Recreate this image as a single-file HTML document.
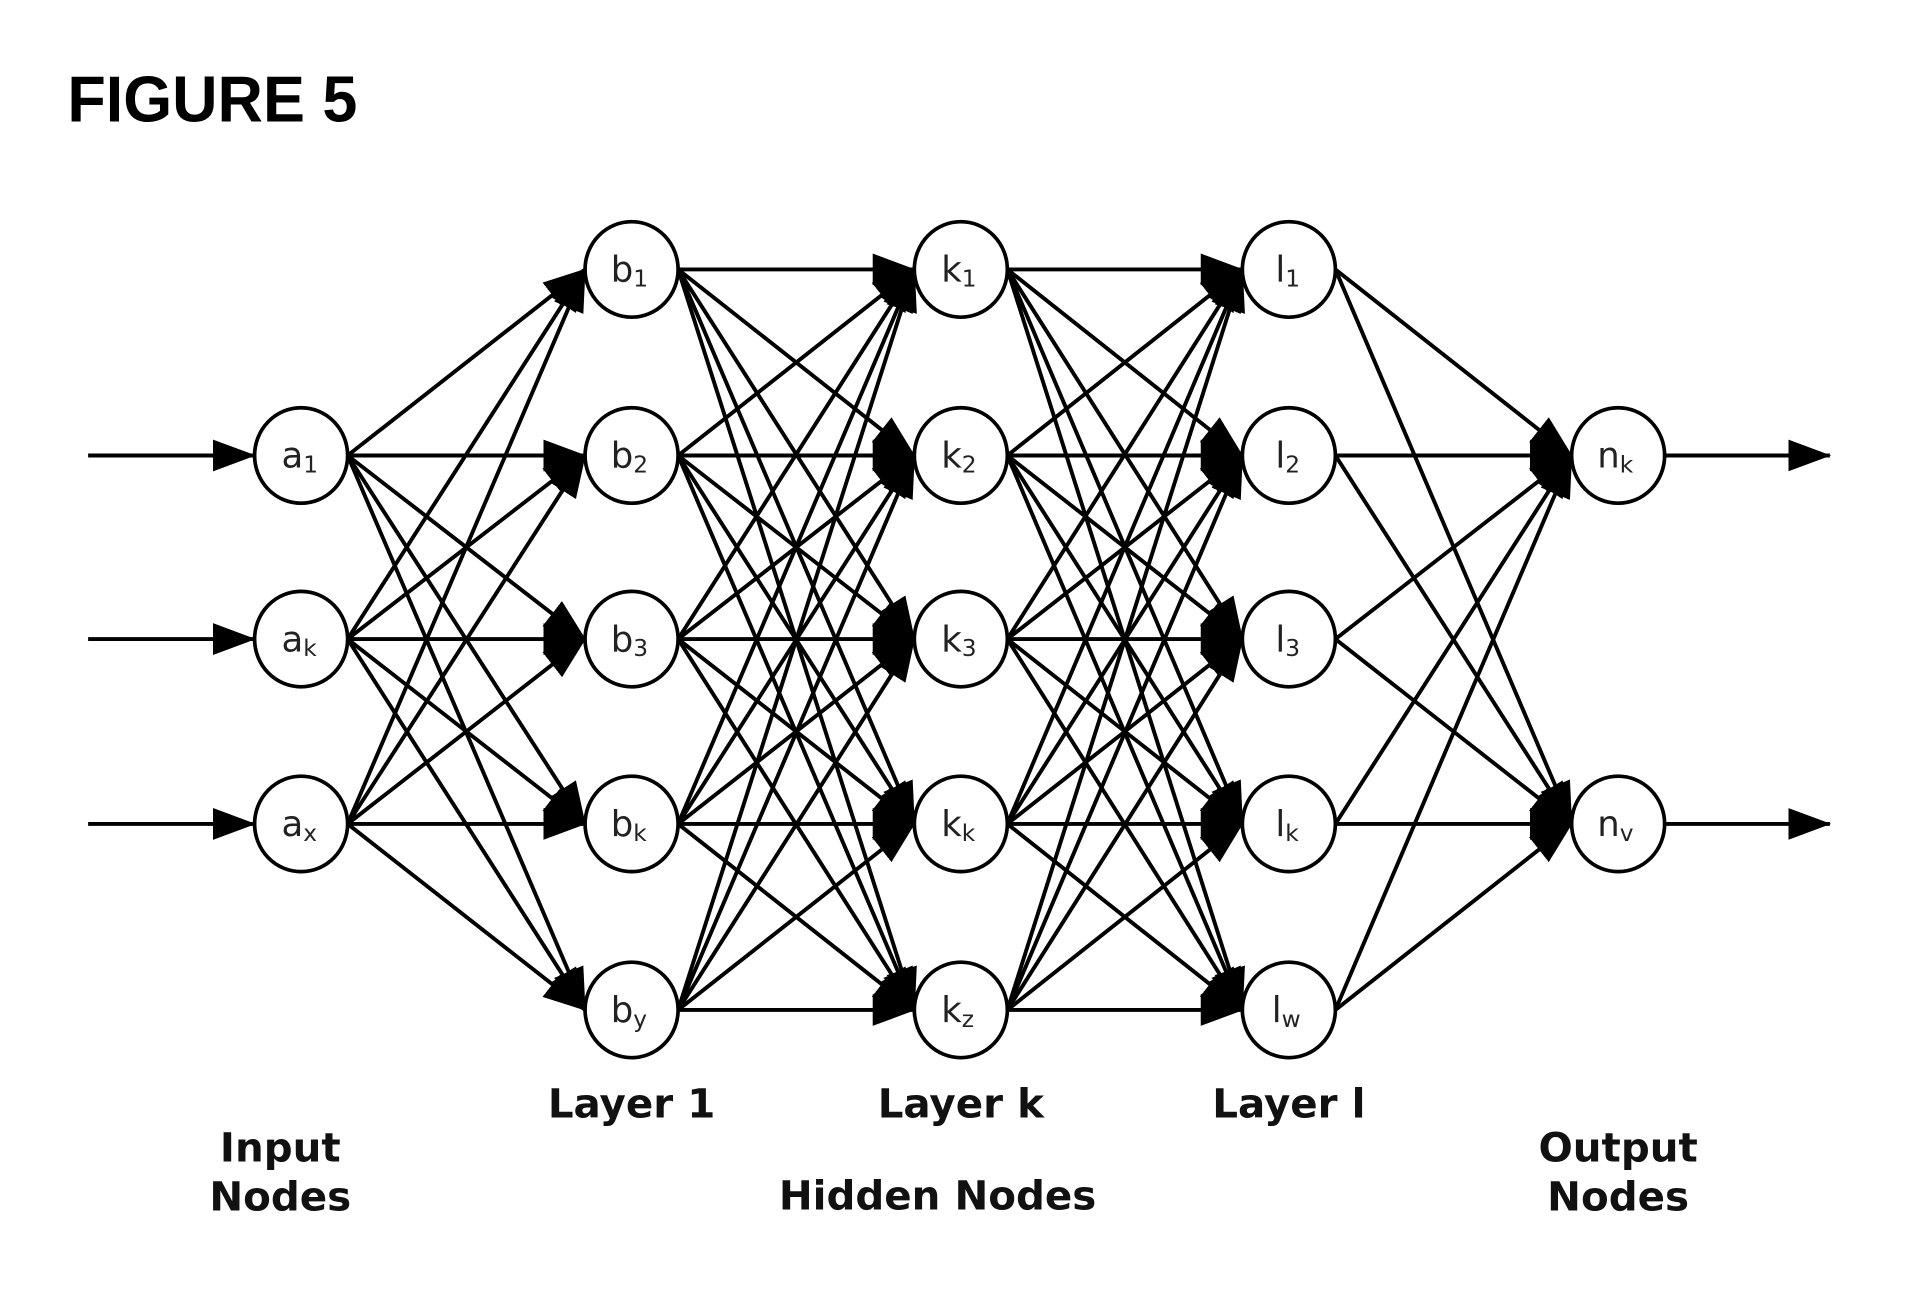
<!DOCTYPE html>
<html><head><meta charset="utf-8"><style>
html,body{margin:0;padding:0;background:#fff;width:1918px;height:1310px;overflow:hidden}
svg{display:block}
.n{font-family:"DejaVu Sans","Liberation Sans",sans-serif;font-size:29px;fill:#222}
.s{font-size:19px}
.lb{font-family:"DejaVu Sans","Liberation Sans",sans-serif;font-weight:bold;font-size:33px;fill:#111}
</style></head><body>
<svg id="g" width="1918" height="1310" viewBox="0 0 1567 1070" xmlns="http://www.w3.org/2000/svg">
<defs><marker id="ah" markerUnits="userSpaceOnUse" markerWidth="36" markerHeight="28" refX="34" refY="13" orient="auto"><path d="M0,0 L35,13 L0,26 z" fill="#000"/></marker></defs>
<text x="55" y="99" font-family="Liberation Sans,sans-serif" font-weight="bold" font-size="53" fill="#000" textLength="237" lengthAdjust="spacingAndGlyphs">FIGURE 5</text>
<g id="lines" stroke="#000" stroke-width="3.2" fill="none"></g>
<g id="nodes" fill="#fff" stroke="#000" stroke-width="3"></g>
<g>
<text class="n" x="230" y="382">a<tspan class="s" dy="4">1</tspan></text>
<text class="n" x="230" y="532">a<tspan class="s" dy="4">k</tspan></text>
<text class="n" x="230" y="683">a<tspan class="s" dy="4">x</tspan></text>
<text class="n" x="499" y="230">b<tspan class="s" dy="4">1</tspan></text>
<text class="n" x="499" y="382">b<tspan class="s" dy="4">2</tspan></text>
<text class="n" x="499" y="532">b<tspan class="s" dy="4">3</tspan></text>
<text class="n" x="499" y="683">b<tspan class="s" dy="4">k</tspan></text>
<text class="n" x="499" y="835">b<tspan class="s" dy="4">y</tspan></text>
<text class="n" x="769" y="230">k<tspan class="s" dy="4">1</tspan></text>
<text class="n" x="769" y="382">k<tspan class="s" dy="4">2</tspan></text>
<text class="n" x="769" y="532">k<tspan class="s" dy="4">3</tspan></text>
<text class="n" x="769" y="683">k<tspan class="s" dy="4">k</tspan></text>
<text class="n" x="769" y="835">k<tspan class="s" dy="4">z</tspan></text>
<text class="n" x="1042" y="230">l<tspan class="s" dy="4">1</tspan></text>
<text class="n" x="1042" y="382">l<tspan class="s" dy="4">2</tspan></text>
<text class="n" x="1042" y="532">l<tspan class="s" dy="4">3</tspan></text>
<text class="n" x="1042" y="683">l<tspan class="s" dy="4">k</tspan></text>
<text class="n" x="1039" y="835">l<tspan class="s" dy="4">w</tspan></text>
<text class="n" x="1305" y="382">n<tspan class="s" dy="4">k</tspan></text>
<text class="n" x="1305" y="683">n<tspan class="s" dy="4">v</tspan></text>
</g>
<text class="lb" x="516" y="913" text-anchor="middle">Layer 1</text>
<text class="lb" x="785" y="913" text-anchor="middle">Layer k</text>
<text class="lb" x="1053" y="913" text-anchor="middle">Layer l</text>
<text class="lb" x="229" y="949" text-anchor="middle">Input</text>
<text class="lb" x="229" y="989" text-anchor="middle">Nodes</text>
<text class="lb" x="766" y="988" text-anchor="middle">Hidden Nodes</text>
<text class="lb" x="1322" y="949" text-anchor="middle">Output</text>
<text class="lb" x="1322" y="989" text-anchor="middle">Nodes</text>
</svg>
<script>
var NS="http://www.w3.org/2000/svg",R=38;
var cols=[[246,[372,522,673]],[516,[220,372,522,673,825]],[785,[220,372,522,673,825]],[1053,[220,372,522,673,825]],[1322,[372,673]]];
var L=document.getElementById('lines'),N=document.getElementById('nodes');
function ln(x1,y1,x2,y2){var l=document.createElementNS(NS,'line');l.setAttribute('x1',x1);l.setAttribute('y1',y1);l.setAttribute('x2',x2);l.setAttribute('y2',y2);l.setAttribute('marker-end','url(#ah)');L.appendChild(l);}
for(var c=0;c<cols.length-1;c++){var a=cols[c],b=cols[c+1];a[1].forEach(function(y1){b[1].forEach(function(y2){ln(a[0]+R,y1,b[0]-R,y2);});});}
cols[0][1].forEach(function(y){ln(72,y,246-R,y);});
cols[4][1].forEach(function(y){ln(1322+R,y,1495,y);});
cols.forEach(function(c){c[1].forEach(function(y){var e=document.createElementNS(NS,'ellipse');e.setAttribute('cx',c[0]);e.setAttribute('cy',y);e.setAttribute('rx',R);e.setAttribute('ry',39);N.appendChild(e);});});
</script>
</body></html>
